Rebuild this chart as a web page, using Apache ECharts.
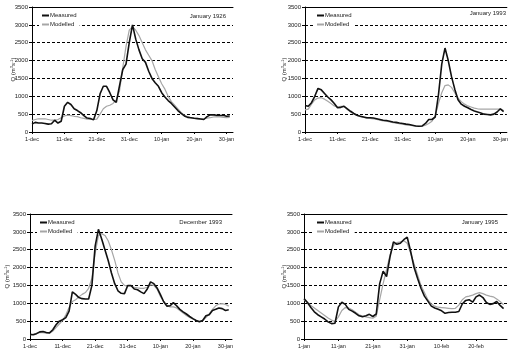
<!DOCTYPE html>
<html>
<head>
<meta charset="utf-8">
<script src="https://cdn.jsdelivr.net/npm/echarts@6/dist/echarts.min.js"></script>
<style>
  html, body { margin: 0; padding: 0; background: #fff; }
  #chart { width: 511px; height: 355px; }
</style>
</head>
<body>
<div id="chart"></div>
<script>
// tick labels, one every 10 days
const decJanTicks = ['1-dec', '11-dec', '21-dec', '31-dec', '10-jan', '20-jan', '30-jan']
const janFebTicks = ['1-jan', '11-jan', '21-jan', '31-jan', '10-feb', '20-feb']

// daily discharge (m3/s), 1 Dec 1925 - 31 Jan 1926
const measured1926 = [220, 270, 250, 250, 240, 220, 230, 330, 250, 300, 720, 830, 770, 650, 600, 540, 460, 390, 380, 340,
  600, 1070, 1280, 1280, 1100, 900, 830, 1300, 1750, 1900, 2500, 3000, 2600, 2300, 2050, 1950, 1700, 1500, 1380, 1280,
  1100, 980, 880, 800, 700, 600, 520, 450, 410, 400, 385, 375, 365, 350, 430, 480, 480, 470, 460, 470, 440, 450]
const modelled1926 = [320, 350, 370, 370, 370, 350, 330, 330, 350, 400, 450, 470, 460, 440, 430, 400, 380, 360, 350, 350,
  360, 500, 650, 720, 750, 800, 900, 1150, 1800, 2400, 2850, 2950, 2850, 2700, 2500, 2300, 2150, 2000, 1750, 1550,
  1350, 1200, 1000, 850, 750, 650, 550, 470, 430, 400, 390, 380, 370, 370, 390, 400, 420, 430, 420, 410, 400, 410]

// 1 Dec 1992 - 31 Jan 1993
const measured1993a = [740, 720, 820, 1000, 1220, 1180, 1080, 980, 900, 800, 680, 690, 720, 650, 580, 520, 470, 440, 420, 400,
  400, 390, 370, 350, 330, 320, 300, 280, 270, 250, 240, 220, 210, 190, 170, 160, 170, 240, 350, 350,
  420, 1050, 1900, 2350, 2000, 1550, 1200, 900, 780, 720, 680, 630, 590, 560, 530, 500, 490, 480, 500, 560, 650, 570]
const modelled1993a = [620, 640, 780, 900, 950, 960, 920, 860, 800, 730, 700, 720, 720, 630, 560, 500, 460, 430, 410, 390,
  380, 370, 350, 330, 310, 300, 280, 260, 250, 230, 220, 200, 190, 180, 170, 160, 160, 190, 240, 300,
  450, 800, 1100, 1300, 1320, 1250, 1100, 950, 850, 780, 730, 700, 670, 650, 640, 640, 640, 640, 640, 640, 640, 600]

// 1 Dec 1993 - 31 Jan 1994
const measured1993b = [130, 120, 150, 200, 210, 180, 170, 260, 400, 500, 540, 600, 780, 1320, 1250, 1160, 1130, 1120, 1120, 1500,
  2600, 3070, 2800, 2500, 2200, 1850, 1550, 1350, 1280, 1270, 1500, 1500, 1400, 1380, 1320, 1270, 1400, 1600, 1550, 1430,
  1250, 1050, 920, 930, 1020, 930, 830, 760, 700, 630, 570, 520, 480, 520, 650, 680, 800, 830, 870, 850, 800, 820]
const modelled1993b = [120, 130, 160, 180, 180, 160, 170, 220, 320, 420, 520, 680, 880, 1050, 1100, 1180, 1250, 1300, 1420, 1700,
  2400, 2900, 2950, 2900, 2750, 2500, 2200, 1850, 1600, 1500, 1480, 1480, 1450, 1430, 1420, 1420, 1450, 1520, 1500, 1400,
  1200, 1050, 950, 900, 900, 870, 800, 730, 660, 600, 560, 520, 490, 520, 600, 700, 830, 930, 980, 990, 970, 920]

// 1 Jan 1995 - 28 Feb 1995
const measured1995 = [1130, 1020, 880, 760, 680, 620, 560, 480, 430, 440, 900, 1030, 970, 830, 780, 720, 650, 620, 650, 690,
  630, 700, 1550, 1900, 1750, 2300, 2720, 2650, 2680, 2780, 2850, 2450, 2000, 1700, 1420, 1200, 1060, 920, 870, 830,
  790, 720, 740, 750, 750, 770, 980, 1080, 1100, 1030, 1180, 1230, 1160, 1020, 970, 990, 1050, 940, 850]
const modelled1995 = [1100, 1020, 940, 870, 800, 730, 660, 590, 530, 490, 620, 800, 880, 870, 820, 750, 680, 640, 620, 600,
  580, 640, 1100, 1550, 1950, 2350, 2620, 2700, 2720, 2750, 2680, 2400, 2100, 1800, 1500, 1300, 1100, 980, 920, 890,
  880, 870, 860, 850, 860, 950, 1100, 1180, 1200, 1230, 1270, 1300, 1270, 1230, 1200, 1180, 1120, 1050, 960]

const panels = [
  { title: 'January 1926', ticks: decJanTicks, measured: measured1926, modelled: modelled1926,
    grid: { left: 32, top: 7, width: 201, height: 125 }, xMax: 62, nameGap: 16,
    legend: { left: 39, top: 10 }, titlePos: { right: 285, top: 13 } },
  { title: 'January 1993', ticks: decJanTicks, measured: measured1993a, modelled: modelled1993a,
    grid: { left: 305, top: 7, width: 205, height: 125 }, xMax: 62, nameGap: 18,
    legend: { left: 314, top: 10 }, titlePos: { right: 5, top: 10 } },
  { title: 'December 1993', ticks: decJanTicks, measured: measured1993b, modelled: modelled1993b,
    grid: { left: 30, top: 214, width: 202, height: 125 }, xMax: 62, nameGap: 20,
    legend: { left: 37, top: 217 }, titlePos: { right: 289, top: 219 } },
  { title: 'January 1995', ticks: janFebTicks, measured: measured1995, modelled: modelled1995,
    grid: { left: 304, top: 214, width: 203, height: 125 }, xMax: 59, nameGap: 17,
    legend: { left: 314, top: 217 }, titlePos: { right: 13, top: 219 } }
]

const font = 'Arial, "Liberation Sans", sans-serif'
const labelColor = '#222'

const option = {
  animation: false,
  textStyle: { fontFamily: font },
  title: [],
  legend: [],
  grid: [],
  xAxis: [],
  yAxis: [],
  series: []
}

panels.forEach((p, i) => {
  option.grid.push(p.grid)
  option.title.push({
    text: p.title,
    right: p.titlePos.right,
    top: p.titlePos.top,
    padding: 0,
    textStyle: { fontSize: 6, fontWeight: 'normal', color: labelColor, fontFamily: font }
  })
  option.legend.push({
    orient: 'vertical',
    left: p.legend.left,
    top: p.legend.top,
    padding: [2, 3, 2, 3],
    backgroundColor: '#fff',
    itemWidth: 7,
    itemHeight: 2,
    itemGap: 2,
    icon: 'rect',
    data: ['Measured', 'Modelled'],
    selectedMode: false,
    textStyle: { fontSize: 6, lineHeight: 7, color: labelColor, fontFamily: font, padding: [0, 0, 0, -4] }
  })
  const tickVals = p.ticks.map((t, k) => k * 10)
  // bottom date axis
  option.xAxis.push({
    type: 'value',
    gridIndex: i,
    min: 0,
    max: p.xMax,
    axisLine: { lineStyle: { color: '#000', width: 1 } },
    axisTick: { show: true, length: 2, customValues: tickVals, lineStyle: { color: '#000' } },
    axisLabel: {
      customValues: tickVals,
      formatter: v => p.ticks[Math.round(v / 10)] || '',
      fontSize: 5.5, color: labelColor, margin: 4, fontFamily: font
    },
    splitLine: { show: false }
  })
  // top border line only
  option.xAxis.push({
    type: 'value',
    gridIndex: i,
    position: 'top',
    min: 0,
    max: p.xMax,
    axisLine: { lineStyle: { color: '#000', width: 1 } },
    axisTick: { show: false },
    axisLabel: { show: false },
    splitLine: { show: false }
  })
  option.yAxis.push({
    type: 'value',
    gridIndex: i,
    min: 0,
    max: 3500,
    interval: 500,
    name: 'Q (m{sup|3}s{sup|-1})',
    nameLocation: 'middle',
    nameGap: p.nameGap,
    nameMoveOverlap: false,
    nameTextStyle: {
      fontSize: 6, color: labelColor, fontFamily: font,
      rich: { sup: { fontSize: 4, verticalAlign: 'top', color: labelColor, fontFamily: font } }
    },
    axisLine: { show: true, lineStyle: { color: '#000', width: 1 } },
    axisTick: { show: true, length: 3, lineStyle: { color: '#000' } },
    axisLabel: { fontSize: 6, color: labelColor, margin: 4, fontFamily: font, formatter: v => String(v) },
    splitLine: { show: true, lineStyle: { color: '#000', width: 1, type: [3, 2] } }
  })
  option.series.push({
    name: 'Modelled',
    type: 'line',
    xAxisIndex: i * 2,
    yAxisIndex: i,
    data: p.modelled.map((v, k) => [k, v]),
    showSymbol: false,
    symbol: 'none',
    lineStyle: { color: '#a6a6a6', width: 1.2 },
    itemStyle: { color: '#a6a6a6' }
  })
  option.series.push({
    name: 'Measured',
    type: 'line',
    xAxisIndex: i * 2,
    yAxisIndex: i,
    data: p.measured.map((v, k) => [k, v]),
    showSymbol: false,
    symbol: 'none',
    lineStyle: { color: '#111', width: 1.6 },
    itemStyle: { color: '#111' }
  })
})

const chart = echarts.init(document.getElementById('chart'))
chart.setOption(option)
</script>
</body>
</html>
